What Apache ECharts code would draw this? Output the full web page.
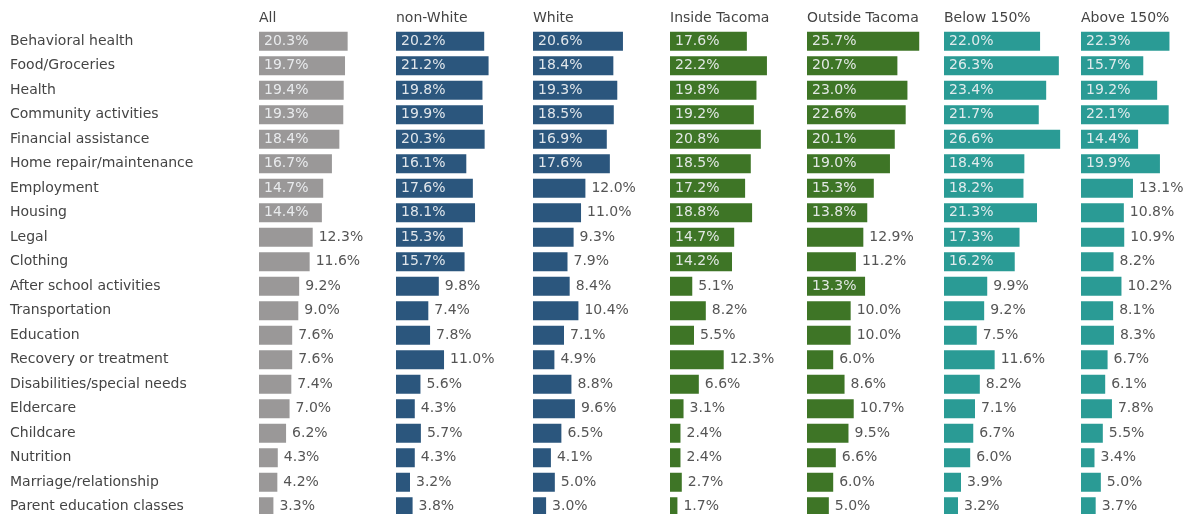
<!DOCTYPE html>
<html>
<head>
<meta charset="utf-8">
<script src="https://cdn.jsdelivr.net/npm/echarts@6/dist/echarts.min.js"></script>
<style>
  html, body { margin: 0; padding: 0; background: #fff; overflow: hidden; }
  /* canvas is taller than the window so the last row can run past the bottom edge */
  #chart { width: 1200px; height: 530px; }
</style>
</head>
<body>
<div id="chart"></div>
<script>
// Service needs, share of respondents (%) by group
const categories = [
  'Behavioral health', 'Food/Groceries', 'Health', 'Community activities',
  'Financial assistance', 'Home repair/maintenance', 'Employment', 'Housing',
  'Legal', 'Clothing', 'After school activities', 'Transportation', 'Education',
  'Recovery or treatment', 'Disabilities/special needs', 'Eldercare', 'Childcare',
  'Nutrition', 'Marriage/relationship', 'Parent education classes'
];

const groupNames = ['All', 'non-White', 'White', 'Inside Tacoma', 'Outside Tacoma', 'Below 150%', 'Above 150%'];

const allValues      = [20.3, 19.7, 19.4, 19.3, 18.4, 16.7, 14.7, 14.4, 12.3, 11.6, 9.2, 9.0, 7.6, 7.6, 7.4, 7.0, 6.2, 4.3, 4.2, 3.3];
const nonWhite       = [20.2, 21.2, 19.8, 19.9, 20.3, 16.1, 17.6, 18.1, 15.3, 15.7, 9.8, 7.4, 7.8, 11.0, 5.6, 4.3, 5.7, 4.3, 3.2, 3.8];
const white          = [20.6, 18.4, 19.3, 18.5, 16.9, 17.6, 12.0, 11.0, 9.3, 7.9, 8.4, 10.4, 7.1, 4.9, 8.8, 9.6, 6.5, 4.1, 5.0, 3.0];
const insideTacoma   = [17.6, 22.2, 19.8, 19.2, 20.8, 18.5, 17.2, 18.8, 14.7, 14.2, 5.1, 8.2, 5.5, 12.3, 6.6, 3.1, 2.4, 2.4, 2.7, 1.7];
const outsideTacoma  = [25.7, 20.7, 23.0, 22.6, 20.1, 19.0, 15.3, 13.8, 12.9, 11.2, 13.3, 10.0, 10.0, 6.0, 8.6, 10.7, 9.5, 6.6, 6.0, 5.0];
const below150       = [22.0, 26.3, 23.4, 21.7, 26.6, 18.4, 18.2, 21.3, 17.3, 16.2, 9.9, 9.2, 7.5, 11.6, 8.2, 7.1, 6.7, 6.0, 3.9, 3.2];
const above150       = [22.3, 15.7, 19.2, 22.1, 14.4, 19.9, 13.1, 10.8, 10.9, 8.2, 10.2, 8.1, 8.3, 6.7, 6.1, 7.8, 5.5, 3.4, 5.0, 3.7];

const groupValues = [allValues, nonWhite, white, insideTacoma, outsideTacoma, below150, above150];
const groupColors = ['#9a9898', '#2b567d', '#2b567d', '#3e7526', '#3e7526', '#2a9b95', '#2a9b95'];

// layout of the small multiples
const FONT = '"DejaVu Sans", Verdana, sans-serif';
const FONT_SIZE = 14;
const firstLeft = 259;
const panelStep = 137;
const panelWidth = 131;
const gridTop = 29;
const rowHeight = 24.5;
const axisMax = 30;
const insideThreshold = 13.2; // bars at least this long carry their label inside

const grids = [], xAxes = [], yAxes = [], series = [], titles = [];

groupValues.forEach((vals, g) => {
  const left = firstLeft + g * panelStep;
  grids.push({ left: left, top: gridTop, width: panelWidth, height: rowHeight * categories.length, containLabel: false });
  xAxes.push({
    type: 'value', gridIndex: g, min: 0, max: axisMax, show: false
  });
  yAxes.push({
    type: 'category', gridIndex: g, data: categories, inverse: true,
    axisLine: { show: false }, axisTick: { show: false }, splitLine: { show: false },
    axisLabel: g === 0 ? {
      show: true, align: 'left', margin: left - 10,
      fontFamily: FONT, fontSize: FONT_SIZE, color: '#444'
    } : { show: false }
  });
  titles.push({
    text: groupNames[g], left: left, top: 11, padding: 0,
    textStyle: { fontFamily: FONT, fontSize: FONT_SIZE, fontWeight: 'normal', color: '#444' }
  });
  series.push({
    type: 'bar', xAxisIndex: g, yAxisIndex: g, barWidth: 19,
    itemStyle: { color: groupColors[g] },
    silent: true,
    data: vals.map(v => ({
      value: v,
      label: v >= insideThreshold
        ? { show: true, position: 'insideLeft', distance: 5, color: 'rgba(240,242,244,0.92)' }
        : { show: true, position: 'right', distance: 6, color: '#555' }
    })),
    label: {
      show: true, fontFamily: FONT, fontSize: FONT_SIZE,
      formatter: p => p.value.toFixed(1) + '%'
    }
  });
});

const chart = echarts.init(document.getElementById('chart'), null, { renderer: 'canvas' });
chart.setOption({
  animation: false,
  backgroundColor: '#fff',
  title: titles,
  grid: grids,
  xAxis: xAxes,
  yAxis: yAxes,
  series: series
});
</script>
</body>
</html>
